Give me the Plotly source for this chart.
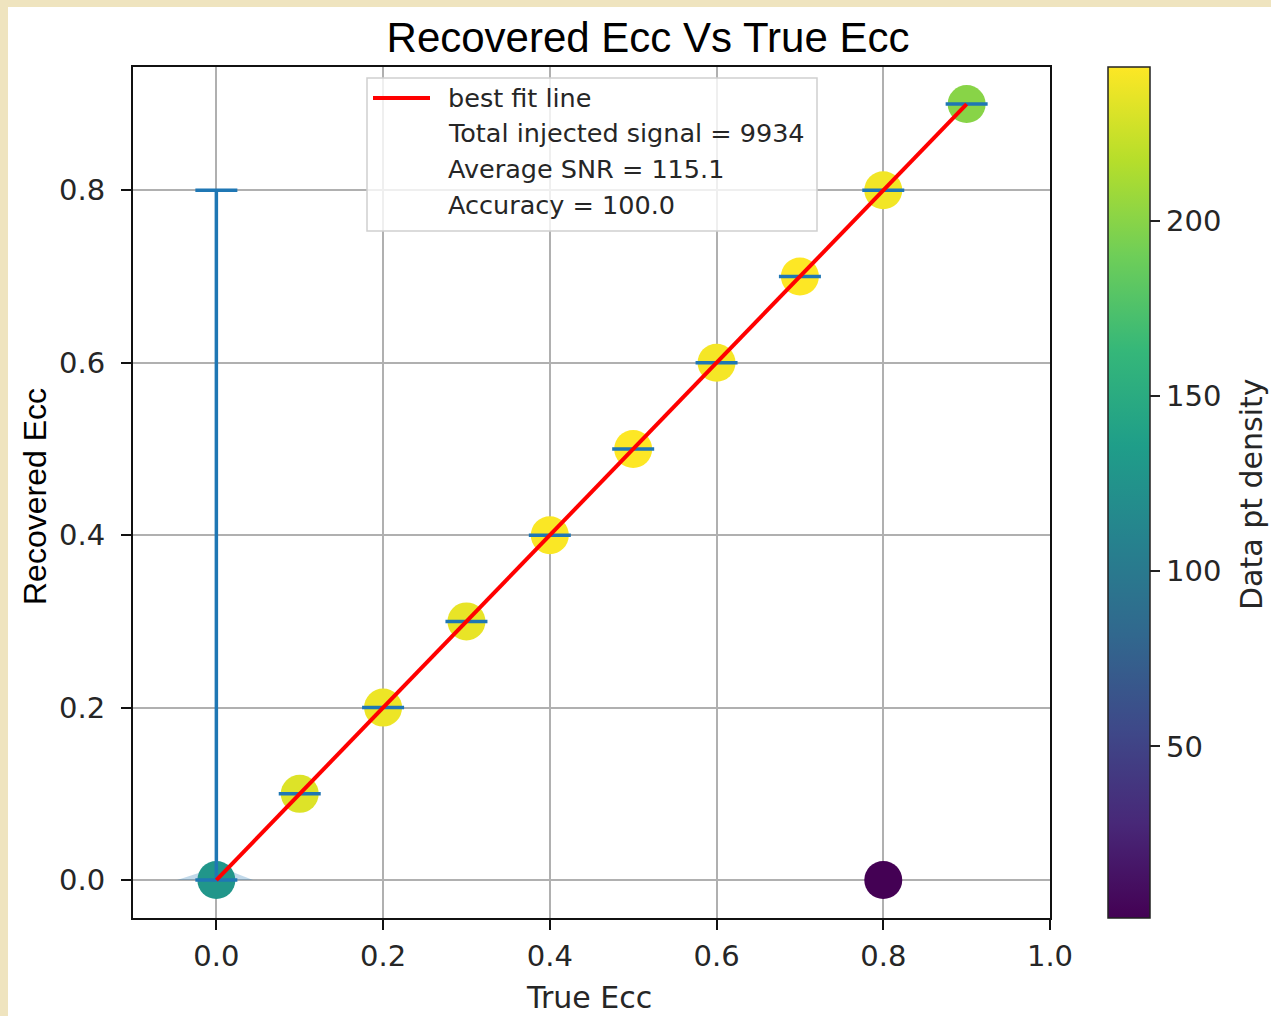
import plotly.graph_objects as go

# ---------------- data ----------------
true_ecc = [0.0, 0.1, 0.2, 0.3, 0.4, 0.5, 0.6, 0.7, 0.8, 0.9]
recovered_ecc = [0.0, 0.1, 0.2, 0.3, 0.4, 0.5, 0.6, 0.7, 0.8, 0.9]
err_upper = [0.8, 0.0, 0.0, 0.0, 0.0, 0.0, 0.0, 0.0, 0.0, 0.0]
err_lower = [0.0, 0.0, 0.0, 0.0, 0.0, 0.0, 0.0, 0.0, 0.0, 0.0]
density = [128, 232, 238, 236, 243, 244, 241, 244, 240, 200]

outlier_x = [0.8]
outlier_y = [0.0]
outlier_density = [1]

fit_x = [0.0, 0.9]
fit_y = [0.0, 0.9]

# spread of recovered values at true ecc = 0 (light blue wedge)
spread_x = [-0.047, -0.02, 0.0, 0.02, 0.044, -0.047]
spread_y = [0.0, 0.009, 0.015, 0.009, 0.0, 0.0]

legend_labels = ["best fit line", "Total injected signal = 9934",
                 "Average SNR = 115.1", "Accuracy = 100.0"]

x_ticks = [0.0, 0.2, 0.4, 0.6, 0.8, 1.0]
y_ticks = [0.0, 0.2, 0.4, 0.6, 0.8]
cbar_ticks = [50, 100, 150, 200]
cmin, cmax = 1, 244

# ---------------- layout helpers ----------------
W, H = 1271, 1016
PL, PR, PT, PB = 133, 1050, 67, 918


def px(x):
    return (x - PL) / (PR - PL)


def py(y):
    return (PB - y) / (PB - PT)


DV = "DejaVu Sans"
AR = "Liberation Sans, Arial"
TXT = "#262626"

fig = go.Figure()

fig.add_trace(go.Scatter(
    x=spread_x, y=spread_y, mode="lines", fill="toself",
    fillcolor="rgba(31,119,180,0.28)", line=dict(width=0),
    showlegend=False, hoverinfo="skip"))

all_x = true_ecc + outlier_x
all_y = recovered_ecc + outlier_y
all_c = density + outlier_density
fig.add_trace(go.Scatter(
    x=all_x, y=all_y, mode="markers",
    marker=dict(size=38, color=all_c, colorscale="Viridis", cmin=cmin, cmax=cmax,
                line=dict(width=0),
                colorbar=dict(
                    thickness=42, len=1, lenmode="fraction", y=0.5, yanchor="middle",
                    x=px(1108), xanchor="left", xref="paper", xpad=0, ypad=0,
                    outlinewidth=1.5, outlinecolor="#222",
                    tickvals=cbar_ticks, ticks="outside", ticklen=10, tickwidth=2,
                    tickcolor="#222", tickfont=dict(family=DV, size=29, color=TXT),
                )),
    showlegend=False))

fig.add_trace(go.Scatter(
    x=true_ecc, y=recovered_ecc, mode="markers",
    marker=dict(size=1, color="rgba(0,0,0,0)"),
    error_y=dict(type="data", symmetric=False, array=err_upper, arrayminus=err_lower,
                 color="#1f77b4", thickness=3.5, width=21),
    showlegend=False, hoverinfo="skip"))

fig.add_trace(go.Scatter(
    x=fit_x, y=fit_y, mode="lines", line=dict(color="red", width=4),
    name=legend_labels[0], showlegend=False))

# ---------------- manual legend & decorations ----------------
shapes = [
    dict(type="rect", xref="paper", yref="paper", x0=px(8), x1=1.3, y0=-0.2, y1=py(7),
         fillcolor="white", line=dict(width=0), layer="below"),
    dict(type="rect", xref="paper", yref="paper", x0=px(367), x1=px(817),
         y0=py(231), y1=py(78), fillcolor="rgba(255,255,255,0.8)",
         line=dict(color="#d0d0d0", width=1.5), layer="above"),
    dict(type="line", xref="paper", yref="paper", x0=px(373), x1=px(430),
         y0=py(98), y1=py(98), line=dict(color="red", width=4), layer="above"),
]
annotations = []
for lbl, yy in zip(legend_labels, [98, 133, 169, 205]):
    annotations.append(dict(
        text=lbl, xref="paper", yref="paper", x=px(446), y=py(yy),
        xanchor="left", yanchor="middle", showarrow=False,
        font=dict(family=DV, size=25.5, color=TXT)))

annotations += [
    dict(text="True Ecc", xref="paper", yref="paper", x=px(589), y=py(998),
         xanchor="center", yanchor="middle", showarrow=False,
         font=dict(family=DV, size=30, color=TXT)),
    dict(text="Recovered Ecc", xref="paper", yref="paper", x=px(35), y=py(497),
         xanchor="center", yanchor="middle", showarrow=False, textangle=-90,
         font=dict(family=AR, size=32, color="black")),
    dict(text="Data pt density", xref="paper", yref="paper", x=px(1251), y=py(494),
         xanchor="center", yanchor="middle", showarrow=False, textangle=-90,
         font=dict(family=DV, size=30, color=TXT)),
]

axis_common = dict(
    showline=True, linecolor="#111", linewidth=2, mirror=True,
    ticks="outside", ticklen=10, tickwidth=2, tickcolor="#111",
    showgrid=True, gridcolor="#b0b0b0", gridwidth=1.5, zeroline=False,
    tickfont=dict(family=DV, size=29, color=TXT), tickformat=".1f",
    automargin=False,
)

fig.update_layout(
    width=W, height=H,
    margin=dict(l=PL, r=W - PR, t=PT, b=H - PB, autoexpand=False),
    paper_bgcolor="#efe4bf", plot_bgcolor="white",
    title=dict(text="Recovered Ecc Vs True Ecc", xref="container", x=648 / W,
               xanchor="center", yref="container", y=1 - 37 / H, yanchor="middle",
               font=dict(family=AR, size=42, color="black")),
    xaxis=dict(range=[-0.1, 1.0], tickvals=x_ticks, ticklabelstandoff=1, **axis_common),
    yaxis=dict(range=[-0.044, 0.943], tickvals=y_ticks, ticklabelstandoff=10, **axis_common),
    shapes=shapes, annotations=annotations,
    showlegend=False,
)

fig.write_html("out.html")
